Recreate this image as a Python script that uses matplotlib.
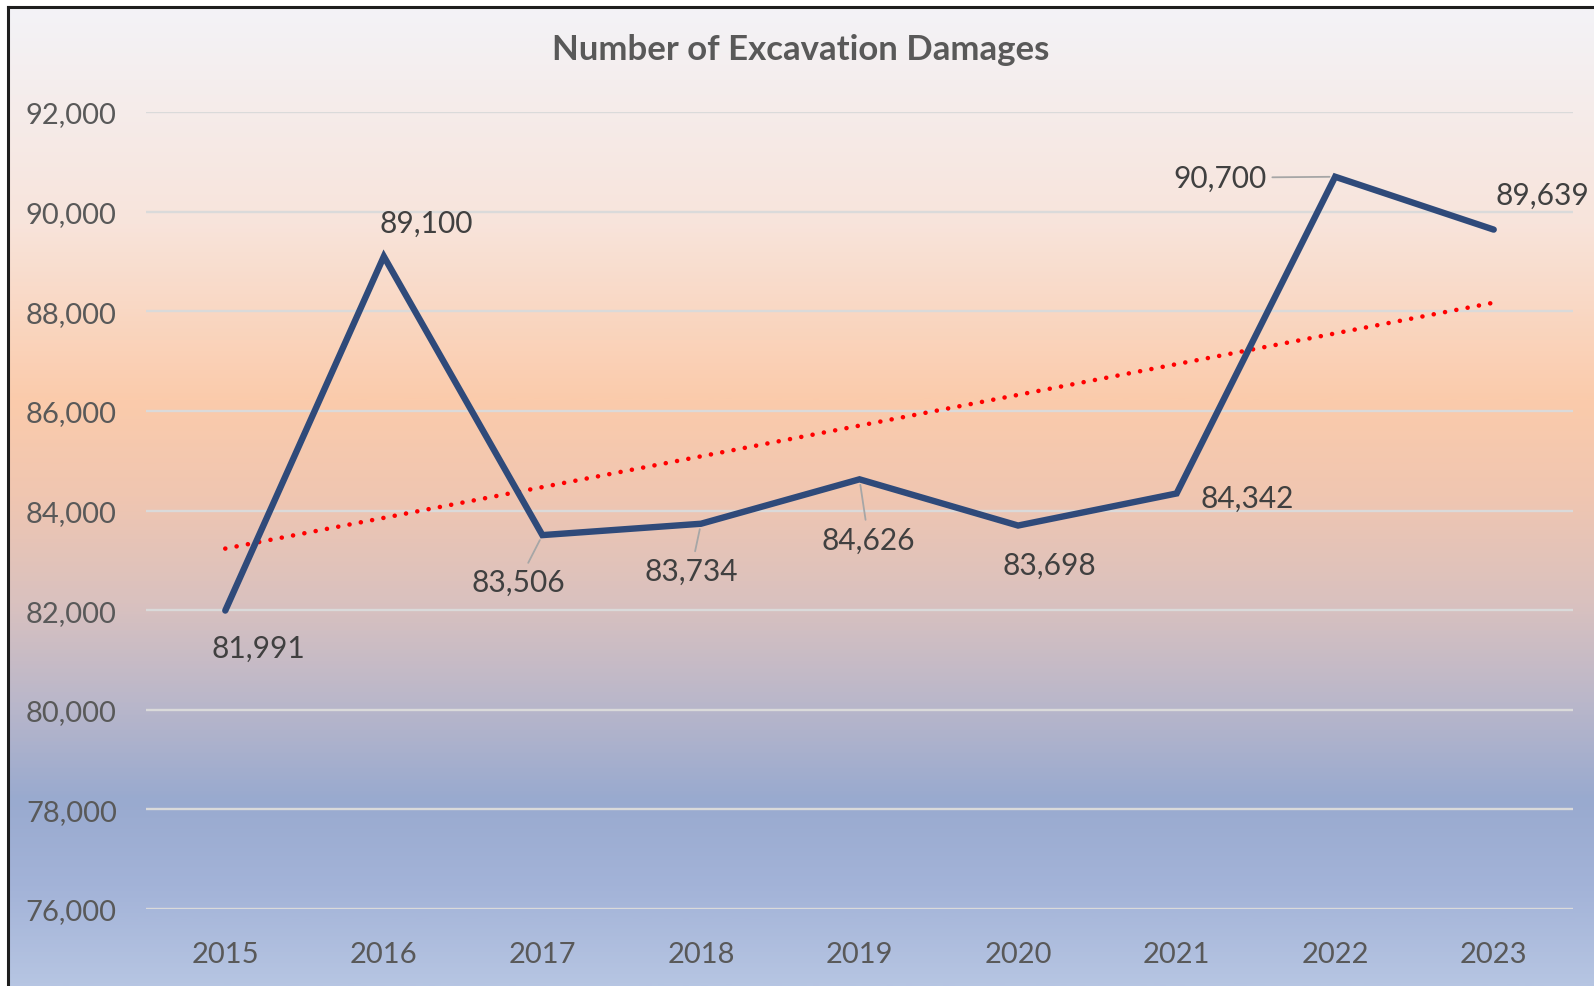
import numpy as np
import matplotlib
matplotlib.use("Agg")
import matplotlib.pyplot as plt
from matplotlib.colors import LinearSegmentedColormap
from matplotlib.ticker import FuncFormatter

# ---- data ----
years = ["2015", "2016", "2017", "2018", "2019", "2020", "2021", "2022", "2023"]
damages = [81991, 89100, 83506, 83734, 84626, 83698, 84342, 90700, 89639]
y_ticks = [76000, 78000, 80000, 82000, 84000, 86000, 88000, 90000, 92000]
title = "Number of Excavation Damages"

# label offsets (pixels) and whether a leader line is drawn
label_offsets = [(33, -37), (42, 34), (-24, -47), (-10, -47), (9, -60),
                 (31, -39), (71, -4), (-115, -1), (49, 35)]
leader = [False, False, True, True, True, False, False, True, False]

W, H = 1594, 987
plt.rcParams['font.family'] = ['Lato', 'DejaVu Sans']
fig = plt.figure(figsize=(W / 100, H / 100), dpi=100)
fig.patch.set_facecolor("white")

# ---- gradient background with border ----
bg = fig.add_axes([8 / W, 0, 1 - 8 / W, 1 - 8 / H])
stops = [(0.0, "#F3F3F7"), (0.22, "#F8E4DB"), (0.40, "#FBCBAB"),
         (0.50, "#F0C6B1"), (0.61, "#D9C1BF"), (0.71, "#BAB7CA"),
         (0.81, "#99AACF"), (0.90, "#A3B3D8"), (1.0, "#B6C5E2")]
cmap = LinearSegmentedColormap.from_list("bg", stops)
grad = np.linspace(0, 1, 512).reshape(-1, 1)
bg.imshow(grad, aspect="auto", cmap=cmap, extent=[0, 1, 1, 0])
bg.set_xlim(0, 1)
bg.set_ylim(1, 0)
bg.set_xticks([])
bg.set_yticks([])
for s in ["right", "bottom"]:
    bg.spines[s].set_visible(False)
for s in ["top", "left"]:
    bg.spines[s].set_linewidth(2.2)
    bg.spines[s].set_color("#1E1E1E")
bg.set_zorder(0)

# ---- main axes ----
left, right = 146 / W, 1573 / W
top, bottom = 1 - 113 / H, 1 - 910 / H
ax = fig.add_axes([left, bottom, right - left, top - bottom])
ax.set_facecolor("none")
ax.set_zorder(1)

x = np.arange(len(years))
ax.set_xlim(-0.5, len(years) - 0.5)
ax.set_ylim(y_ticks[0], y_ticks[-1])
ax.set_yticks(y_ticks)
ax.yaxis.set_major_formatter(FuncFormatter(lambda v, p: f"{int(v):,}"))
ax.set_xticks(x)
ax.set_xticklabels(years)
ax.grid(axis="y", color="#DADADA", linewidth=1.7)
ax.set_axisbelow(True)
for s in ax.spines.values():
    s.set_visible(False)
ax.tick_params(axis="both", length=0, labelsize=21, colors="#595959")
ax.tick_params(axis="x", pad=23)
ax.tick_params(axis="y", pad=21)

# trend line (linear fit)
coef = np.polyfit(x, damages, 1)
ax.plot(x, np.polyval(coef, x), color="#FF0000", linewidth=3.3,
        linestyle=(0, (0.01, 2.5)), dash_capstyle="round", zorder=2)

# main series
ax.plot(x, damages, color="#2F4A7A", linewidth=4.6, solid_capstyle="round",
        solid_joinstyle="miter", zorder=3)

# data labels
for xi, v, off, ld in zip(x, damages, label_offsets, leader):
    kw = {}
    if ld:
        kw["arrowprops"] = dict(arrowstyle="-", color="#A6A6A6", lw=1.3,
                                shrinkA=2, shrinkB=4)
    ax.annotate(f"{v:,}", xy=(xi, v), xytext=off, textcoords="offset pixels",
                ha="center", va="center", fontsize=21.5, color="#404040",
                annotation_clip=False, zorder=4, **kw)

fig.text(801 / W, 1 - 50 / H, title, ha="center", va="center",
         fontsize=25, fontweight="bold", color="#595959")

fig.savefig("out.png", dpi=100)
